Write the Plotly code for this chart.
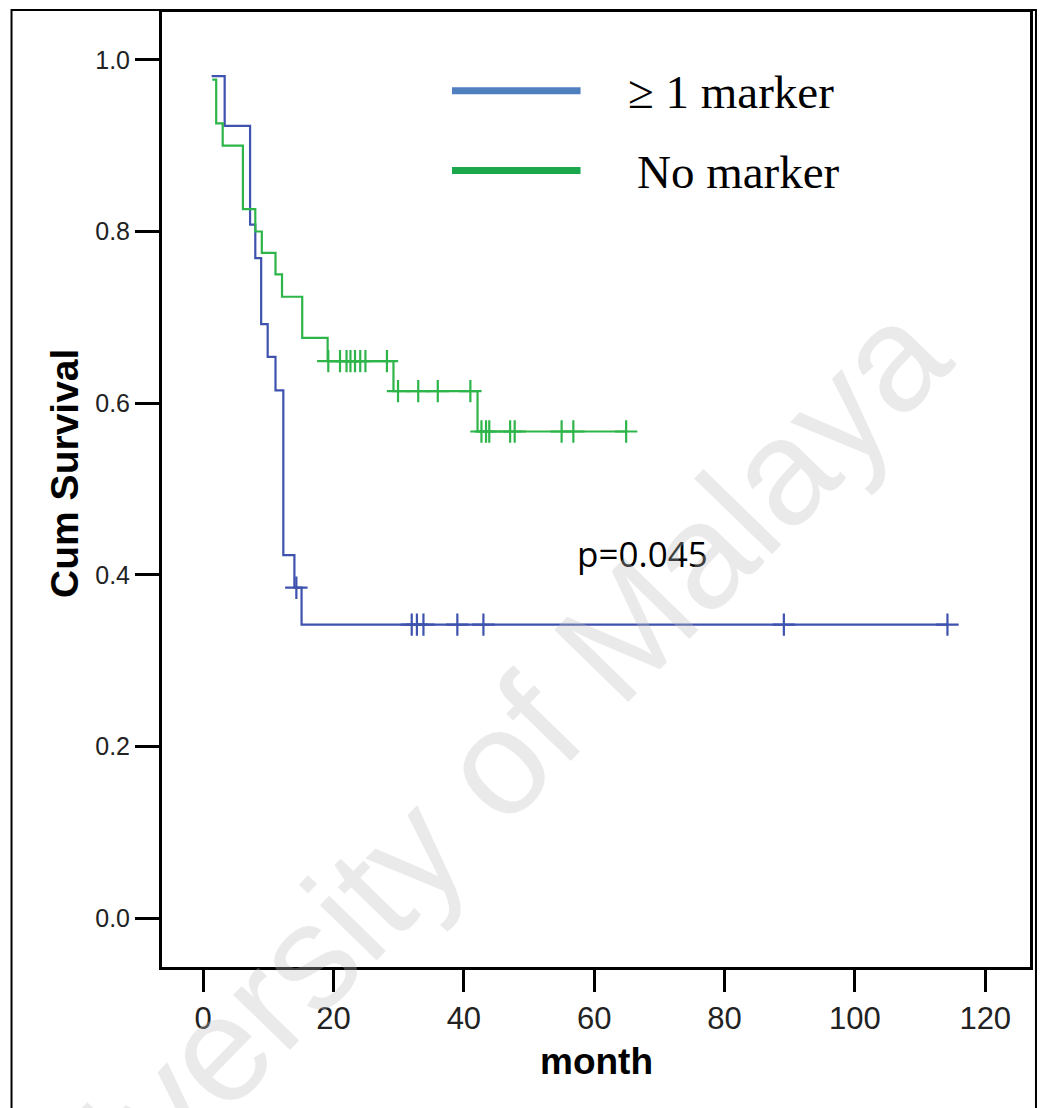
import plotly.graph_objects as go

# Kaplan-Meier step data (event times in months and survival after each event)
marker_pos_times = [1.3, 3.3, 7.2, 8.0, 8.9, 9.9, 11.1, 12.3, 14.0, 15.1]
marker_pos_surv = [0.981, 0.923, 0.808, 0.769, 0.692, 0.654, 0.615, 0.423, 0.385, 0.342]
marker_pos_end = 114.3
marker_pos_censored = [14.3, 32.0, 32.8, 33.8, 39.0, 43.0, 89.1, 114.2]

no_marker_times = [1.4, 2.0, 3.0, 6.1, 8.0, 9.0, 11.1, 12.1, 15.2, 19.1, 29.2, 42.1]
no_marker_surv = [0.977, 0.926, 0.900, 0.826, 0.800, 0.775, 0.750, 0.724, 0.676, 0.649, 0.614, 0.567]
no_marker_end = 65.0
no_marker_censored = [19.2, 21.0, 22.0, 22.6, 23.3, 24.1, 24.9, 28.2,
                      29.9, 33.0, 36.0, 41.0,
                      42.7, 43.4, 43.9, 47.1, 47.8, 55.0, 56.8, 64.9]

x_ticks = [0, 20, 40, 60, 80, 100, 120]
y_ticks = [0.0, 0.2, 0.4, 0.6, 0.8, 1.0]
y_tick_labels = ["0.0", "0.2", "0.4", "0.6", "0.8", "1.0"]

group_names = ["\u2265 1 marker", "No marker"]
p_value_text = "p=0.045"

BLUE = "#3E52AE"
GREEN = "#2EB54A"
LEG_BLUE = "#4F7FBE"
LEG_GREEN = "#1BA84C"


def step_path(times, surv, end):
    xs = list(times) + [end]
    ys = list(surv) + [surv[-1]]
    return xs, ys


def surv_at(t, times, surv):
    s = surv[0]
    for ti, si in zip(times, surv):
        if ti <= t:
            s = si
    return s


fig = go.Figure()

for times, surv, end, cens, col in [
    (marker_pos_times, marker_pos_surv, marker_pos_end, marker_pos_censored, BLUE),
    (no_marker_times, no_marker_surv, no_marker_end, no_marker_censored, GREEN),
]:
    xs, ys = step_path(times, surv, end)
    fig.add_trace(go.Scatter(x=xs, y=ys, mode="lines", line=dict(color=col, width=2.2, shape="hv"),
                             showlegend=False, hoverinfo="skip"))
    fig.add_trace(go.Scatter(x=cens, y=[surv_at(t, times, surv) for t in cens], mode="markers",
                             marker=dict(symbol="cross-thin", size=16, line=dict(color=col, width=2.2)),
                             showlegend=False, hoverinfo="skip"))

# Plot area in pixels: x 162..1033, y 9..967
L, R, T, B = 162, 1033, 9, 967
W, H = 1042, 1108


def px(x):
    return (x - L) / (R - L)


def py(y):
    return (B - y) / (B - T)


shapes = [
    # outer frame around the whole figure
    dict(type="rect", xref="paper", yref="paper", x0=px(11), x1=px(1039), y0=py(1120), y1=py(7),
         line=dict(color="black", width=2), fillcolor="rgba(0,0,0,0)", layer="below"),
    # legend swatches
    dict(type="line", xref="paper", yref="paper", x0=px(453), x1=px(582), y0=py(88), y1=py(88),
         line=dict(color=LEG_BLUE, width=7)),
    dict(type="line", xref="paper", yref="paper", x0=px(453), x1=px(582), y0=py(168), y1=py(168),
         line=dict(color=LEG_GREEN, width=7)),
]

annotations = [
    dict(text=group_names[0], xref="paper", yref="paper", x=px(628), y=py(89), xanchor="left", yanchor="middle",
         showarrow=False, font=dict(family="Liberation Serif, Times New Roman, serif", size=47, color="black")),
    dict(text=group_names[1], xref="paper", yref="paper", x=px(637), y=py(170), xanchor="left", yanchor="middle",
         showarrow=False, font=dict(family="Liberation Serif, Times New Roman, serif", size=47, color="black")),
    dict(text=p_value_text, xref="paper", yref="paper", x=px(576), y=py(552), xanchor="left", yanchor="middle",
         showarrow=False, font=dict(family="Open Sans, Noto Sans, sans-serif", size=35, color="black")),
    dict(text="<b>Cum Survival</b>", xref="paper", yref="paper", x=px(64), y=py(472), textangle=-90,
         xanchor="center", yanchor="middle", showarrow=False,
         font=dict(family="Liberation Sans, Arial, sans-serif", size=39, color="black")),
    dict(text="<b>month</b>", xref="paper", yref="paper", x=px(598), y=py(1062),
         xanchor="center", yanchor="middle", showarrow=False,
         font=dict(family="Liberation Sans, Arial, sans-serif", size=37, color="black")),
    # diagonal watermark
    dict(text="University of Malaya", xref="paper", yref="paper", x=px(450), y=py(812), textangle=-45.8,
         xanchor="center", yanchor="middle", showarrow=False,
         font=dict(family="Liberation Sans, Arial, sans-serif", size=150, color="rgba(190,190,190,0.33)")),
]

fig.update_layout(
    width=W, height=H,
    margin=dict(l=L, r=W - R, t=T, b=H - B, pad=0),
    paper_bgcolor="white", plot_bgcolor="white",
    shapes=shapes, annotations=annotations,
    showlegend=False,
)

fig.update_xaxes(
    range=[(L - 203.3) / 6.54, (R - 203.3) / 6.54],
    tickmode="array", tickvals=x_ticks, ticktext=[str(v) for v in x_ticks],
    ticks="outside", ticklen=22, tickwidth=3, tickcolor="black",
    showline=True, linewidth=3, linecolor="black", mirror=True,
    showgrid=False, zeroline=False,
    tickfont=dict(family="Liberation Sans Narrow, Arial Narrow, Liberation Sans, sans-serif", size=31, color="#222"),
)
fig.update_yaxes(
    range=[-(B - 918) / 861, 1 + (57 - T) / 861],
    tickmode="array", tickvals=y_ticks, ticktext=y_tick_labels,
    ticks="outside", ticklen=24, tickwidth=3, tickcolor="black",
    showline=True, linewidth=3, linecolor="black", mirror=True,
    showgrid=False, zeroline=False,
    tickfont=dict(family="Liberation Sans, Arial, sans-serif", size=25, color="#222"),
)

fig.write_html("out.html")
